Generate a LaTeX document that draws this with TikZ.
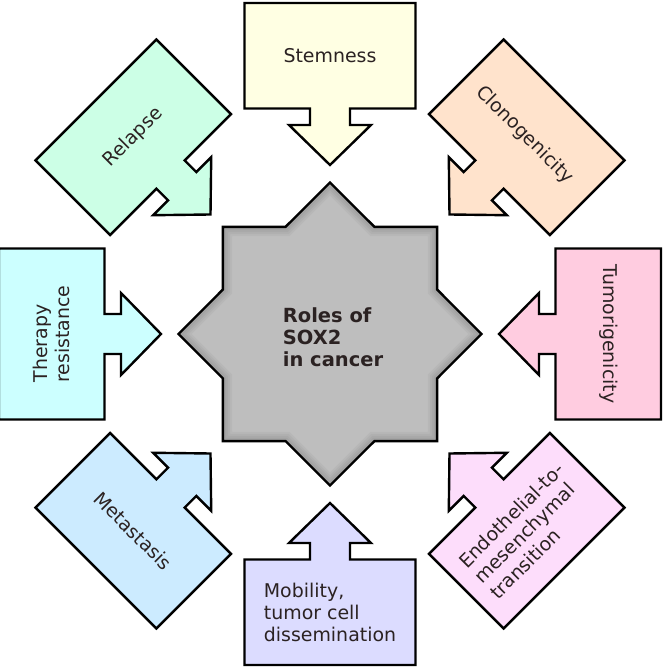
\documentclass[tikz,border=0pt]{standalone}
\usepackage{fontspec}
\setmainfont{DejaVu Sans}
\usetikzlibrary{arrows.meta}
\definecolor{stemyellow}{HTML}{FFFFE3}
\definecolor{clonopeach}{HTML}{FFE3CC}
\definecolor{tumorpink}{HTML}{FFCCE0}
\definecolor{emtpink}{HTML}{FDDDFB}
\definecolor{mobilitylav}{HTML}{DCDCFF}
\definecolor{metablue}{HTML}{CCEBFF}
\definecolor{therapycyan}{HTML}{CCFFFF}
\definecolor{relapsemint}{HTML}{CCFFE6}
\definecolor{coregray}{HTML}{BEBEBE}
\definecolor{inkbrown}{HTML}{2B2222}

\begin{document}
\begin{tikzpicture}[x=0.75pt,y=0.75pt,line cap=round,line join=miter]
  \def\tiprad{169}
  \def\headbase{209}
  \def\stemend{225.5}
  \def\boxout{331}
  \def\headw{41}
  \def\stemw{20}
  \def\boxw{85.5}
  \def\starout{151.5}
  \def\starin{116}
  \def\starpath{(90:\starout) foreach \k in {0,...,6}{
      -- ({112.5+45*\k}:\starin) -- ({135+45*\k}:\starout) }
    -- (67.5:\starin) -- cycle}
  \useasboundingbox (-330,-336) rectangle (334,334);

  % Central eight-pointed star: two equal squares, one turned by 45 degrees.
  \fill[coregray] \starpath;
  \begin{scope}
    \clip \starpath;
    % soft darker rim just inside the outline
    \foreach \lw in {14,11,8,5}{
      \draw[black,opacity=0.035,line width=\lw pt] \starpath;
    }
  \end{scope}
  \draw[black,line width=1.8pt] \starpath;
  \node[text=inkbrown,font=\fontsize{14.6}{16.5}\selectfont\bfseries,align=left]
    (core) at (3,-3) {Roles of\\SOX2\\in cancer};

  % Eight callouts, each one a box with an arrow pointing at the star.
  \foreach \nm/\ang/\trot/\col/\txt in {
    stemness/90/0/stemyellow/Stemness,
    relapse/135/45/relapsemint/Relapse,
    therapy/180/90/therapycyan/{Therapy\\resistance},
    metastasis/225/-45/metablue/Metastasis,
    mobility/270/0/mobilitylav/{Mobility,\\tumor cell\\dissemination},
    endothelial/315/45/emtpink/{Endothelial-to-\\mesenchymal\\transition},
    tumorigenicity/0/-90/tumorpink/Tumorigenicity,
    clonogenicity/45/-45/clonopeach/Clonogenicity
  }{
    \begin{scope}[rotate=\ang-90]
      \draw[black,line width=1.8pt,fill=\col]
        (0,\tiprad) -- (\headw,\headbase) -- (\stemw,\headbase)
        -- (\stemw,\stemend) -- (\boxw,\stemend) -- (\boxw,\boxout)
        -- (-\boxw,\boxout) -- (-\boxw,\stemend) -- (-\stemw,\stemend)
        -- (-\stemw,\headbase) -- (-\headw,\headbase) -- cycle;
      \node[text=inkbrown,font=\fontsize{14.2}{16.5}\selectfont,align=left,
        rotate=\trot] (\nm) at (0,278.25) {\txt};
    \end{scope}
  }
\end{tikzpicture}
\end{document}
